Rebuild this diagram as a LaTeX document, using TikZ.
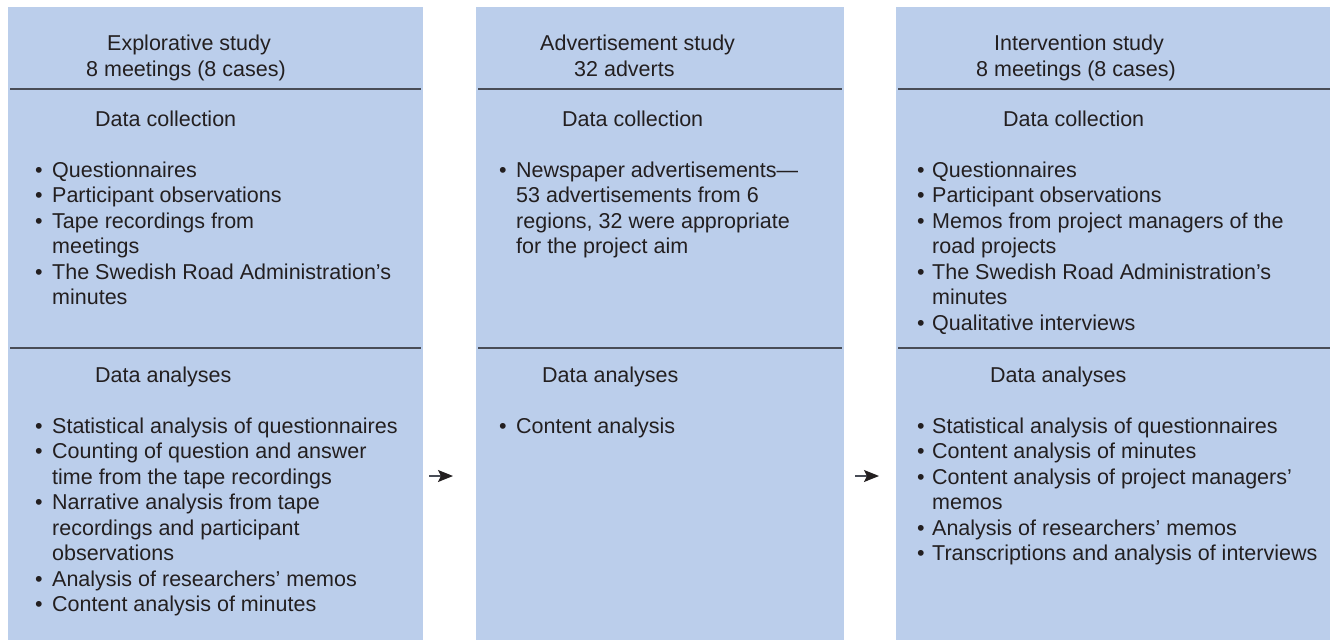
\documentclass[tikz,border=0pt]{standalone}
\usepackage{fontspec}
\setmainfont{Liberation Sans}
\usetikzlibrary{arrows.meta}
\definecolor{panelblue}{RGB}{187,206,235}
\definecolor{ink}{RGB}{35,31,32}
\definecolor{rulegray}{RGB}{72,76,86}
\newcommand{\bul}[2]{\makebox[#1][l]{\textbullet}#2}
\newcommand{\cont}[2]{\hspace*{#1}#2}
\tikzset{
  panel/.style={fill=panelblue, draw=none},
  txt/.style={anchor=base west, inner sep=0pt, text=ink, font=\fontsize{21.5}{25.5}\selectfont},
  divider/.style={draw=rulegray, line width=1.5pt},
  flow/.style={draw=rulegray, line width=1.3pt, -{Stealth[length=15pt,width=12pt,inset=3pt,color=ink]}}
}
\begin{document}
\begin{tikzpicture}[x=1pt,y=-1pt]
\useasboundingbox (0,0) rectangle (1330,640);
% panels
\path[panel] (8,7) rectangle (423,640);
\path[panel] (476,7) rectangle (844,640);
\path[panel] (896,7) rectangle (1330,640);
% dividers
\coordinate (r1a) at (10,89);  \coordinate (r1b) at (421,89);
\coordinate (r2a) at (478,89); \coordinate (r2b) at (842,89);
\coordinate (r3a) at (898,89); \coordinate (r3b) at (1330,89);
\coordinate (s1a) at (10,348);  \coordinate (s1b) at (421,348);
\coordinate (s2a) at (478,348); \coordinate (s2b) at (842,348);
\coordinate (s3a) at (898,348); \coordinate (s3b) at (1330,348);
\draw[divider] (r1a) -- (r1b);
\draw[divider] (r2a) -- (r2b);
\draw[divider] (r3a) -- (r3b);
\draw[divider] (s1a) -- (s1b);
\draw[divider] (s2a) -- (s2b);
\draw[divider] (s3a) -- (s3b);

% ---------- panel 1 ----------
\node[txt] (h1a) at (107,50) {Explorative study};
\node[txt] (h1b) at (86,76) {8 meetings (8 cases)};
\node[txt] (c1) at (95,126) {Data collection};
\node[txt] (c1l) at (35,177) {\begin{tabular}[t]{@{}l@{}}
\bul{17pt}{Questionnaires}\\
\bul{17pt}{Participant observations}\\
\bul{17pt}{Tape recordings from}\\
\cont{17pt}{meetings}\\
\bul{17pt}{The Swedish Road Administration’s}\\
\cont{17pt}{minutes}
\end{tabular}};
\node[txt] (a1) at (95,382) {Data analyses};
\node[txt] (a1l) at (35,433) {\begin{tabular}[t]{@{}l@{}}
\bul{17pt}{Statistical analysis of questionnaires}\\
\bul{17pt}{Counting of question and answer}\\
\cont{17pt}{time from the tape recordings}\\
\bul{17pt}{Narrative analysis from tape}\\
\cont{17pt}{recordings and participant}\\
\cont{17pt}{observations}\\
\bul{17pt}{Analysis of researchers’ memos}\\
\bul{17pt}{Content analysis of minutes}
\end{tabular}};

% ---------- panel 2 ----------
\node[txt] (h2a) at (540,50) {Advertisement study};
\node[txt] (h2b) at (574,76) {32 adverts};
\node[txt] (c2) at (562,126) {Data collection};
\node[txt] (c2l) at (499,177) {\begin{tabular}[t]{@{}l@{}}
\bul{17pt}{Newspaper advertisements—}\\
\cont{17pt}{53 advertisements from 6}\\
\cont{17pt}{regions, 32 were appropriate}\\
\cont{17pt}{for the project aim}
\end{tabular}};
\node[txt] (a2) at (542,382) {Data analyses};
\node[txt] (a2l) at (499,433) {\begin{tabular}[t]{@{}l@{}}
\bul{17pt}{Content analysis}
\end{tabular}};

% ---------- panel 3 ----------
\node[txt] (h3a) at (994,50) {Intervention study};
\node[txt] (h3b) at (976,76) {8 meetings (8 cases)};
\node[txt] (c3) at (1003,126) {Data collection};
\node[txt] (c3l) at (917,177) {\begin{tabular}[t]{@{}l@{}}
\bul{15pt}{Questionnaires}\\
\bul{15pt}{Participant observations}\\
\bul{15pt}{Memos from project managers of the}\\
\cont{15pt}{road projects}\\
\bul{15pt}{The Swedish Road Administration’s}\\
\cont{15pt}{minutes}\\
\bul{15pt}{Qualitative interviews}
\end{tabular}};
\node[txt] (a3) at (990,382) {Data analyses};
\node[txt] (a3l) at (917,433) {\begin{tabular}[t]{@{}l@{}}
\bul{15pt}{Statistical analysis of questionnaires}\\
\bul{15pt}{Content analysis of minutes}\\
\bul{15pt}{Content analysis of project managers’}\\
\cont{15pt}{memos}\\
\bul{15pt}{Analysis of researchers’ memos}\\
\bul{15pt}{Transcriptions and analysis of interviews}
\end{tabular}};

% arrows
\coordinate (f1s) at (429,476); \coordinate (f1e) at (453,476);
\coordinate (f2s) at (855,476); \coordinate (f2e) at (879,476);
\draw[flow] (f1s) -- (f1e);
\draw[flow] (f2s) -- (f2e);
\end{tikzpicture}
\end{document}
